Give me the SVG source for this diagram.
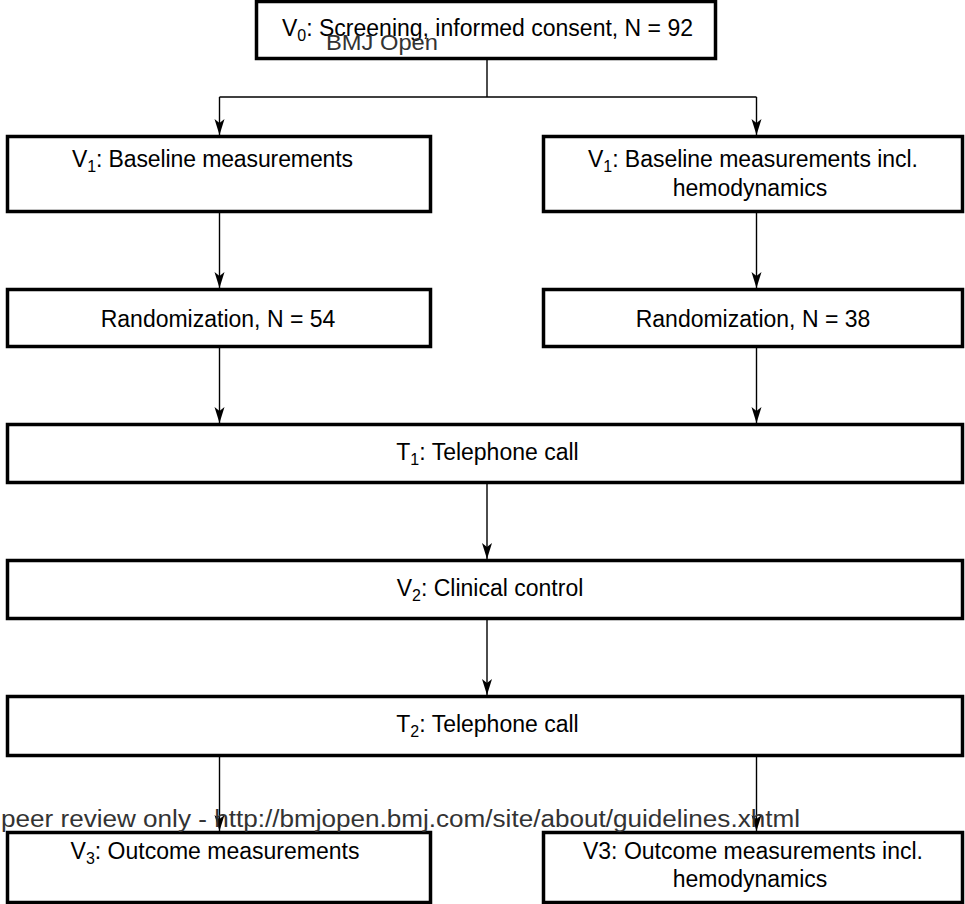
<svg xmlns="http://www.w3.org/2000/svg" width="965" height="904" viewBox="0 0 965 904">
<style>
.box{fill:#fff;stroke:#000;stroke-width:3.5}
.t{font-family:"Liberation Sans",Arial,sans-serif;font-size:23px;fill:#000;text-anchor:middle}
.sub{font-size:16px}
.ln{stroke:#000;stroke-width:1.4;fill:none}
.wm{font-family:"Liberation Sans",Arial,sans-serif;fill:#333}
</style>
<defs>
<marker id="arr" viewBox="0 0 16 10" refX="16" refY="5" markerWidth="16" markerHeight="11" orient="auto" markerUnits="userSpaceOnUse">
<path d="M0,0 L16,5 L0,10 L4,5 Z" fill="#000"/>
</marker>
</defs>
<g id="connectors">
<path class="ln" d="M487,60 V97"/>
<path class="ln" d="M219.5,97 H756.5"/>
<path class="ln" d="M219.5,97 V135" marker-end="url(#arr)"/>
<path class="ln" d="M756.5,97 V135" marker-end="url(#arr)"/>
<path class="ln" d="M219.5,213 V288" marker-end="url(#arr)"/>
<path class="ln" d="M756.5,213 V288" marker-end="url(#arr)"/>
<path class="ln" d="M219.5,348 V423" marker-end="url(#arr)"/>
<path class="ln" d="M756.5,348 V423" marker-end="url(#arr)"/>
<path class="ln" d="M487,484 V559" marker-end="url(#arr)"/>
<path class="ln" d="M487,620 V695" marker-end="url(#arr)"/>
<path class="ln" d="M219.5,757 V831" marker-end="url(#arr)"/>
<path class="ln" d="M756.5,757 V831" marker-end="url(#arr)"/>
</g>
<g id="v0">
<rect class="box" x="256.5" y="1.5" width="459" height="57"/>
<text class="t" x="487.5" y="36" textLength="411">V<tspan class="sub" dy="5">0</tspan><tspan dy="-5">: Screening, informed consent, N = 92</tspan></text>
</g>
<g id="v1a">
<rect class="box" x="7.5" y="136.5" width="423" height="75"/>
<text class="t" x="212.5" y="167" textLength="281">V<tspan class="sub" dy="5">1</tspan><tspan dy="-5">: Baseline measurements</tspan></text>
</g>
<g id="v1b">
<rect class="box" x="543.5" y="136.5" width="419" height="75"/>
<text class="t" x="753" y="167" textLength="330">V<tspan class="sub" dy="5">1</tspan><tspan dy="-5">: Baseline measurements incl.</tspan></text>
<text class="t" x="750" y="196">hemodynamics</text>
</g>
<g id="randA">
<rect class="box" x="7.5" y="289.5" width="423" height="57"/>
<text class="t" x="218" y="327">Randomization, N = 54</text>
</g>
<g id="randB">
<rect class="box" x="543.5" y="289.5" width="419" height="57"/>
<text class="t" x="753" y="327">Randomization, N = 38</text>
</g>
<g id="t1">
<rect class="box" x="7.5" y="424.5" width="955" height="58"/>
<text class="t" x="487.5" y="460">T<tspan class="sub" dy="5">1</tspan><tspan dy="-5">: Telephone call</tspan></text>
</g>
<g id="v2">
<rect class="box" x="7.5" y="560.5" width="955" height="58"/>
<text class="t" x="490" y="596">V<tspan class="sub" dy="5">2</tspan><tspan dy="-5">: Clinical control</tspan></text>
</g>
<g id="t2">
<rect class="box" x="7.5" y="696.5" width="955" height="59"/>
<text class="t" x="487.5" y="732">T<tspan class="sub" dy="5">2</tspan><tspan dy="-5">: Telephone call</tspan></text>
</g>
<g id="v3a">
<rect class="box" x="7.5" y="832.5" width="423" height="70"/>
<text class="t" x="215" y="859">V<tspan class="sub" dy="5">3</tspan><tspan dy="-5">: Outcome measurements</tspan></text>
</g>
<g id="v3b">
<rect class="box" x="543.5" y="832.5" width="419" height="70"/>
<text class="t" x="753" y="859">V3: Outcome measurements incl.</text>
<text class="t" x="750" y="887">hemodynamics</text>
</g>
<text class="wm" x="326" y="50" font-size="22" textLength="112" lengthAdjust="spacingAndGlyphs">BMJ Open</text>
<text class="wm" x="1" y="827" font-size="23" textLength="799" lengthAdjust="spacingAndGlyphs">peer review only - http://bmjopen.bmj.com/site/about/guidelines.xhtml</text>
</svg>
